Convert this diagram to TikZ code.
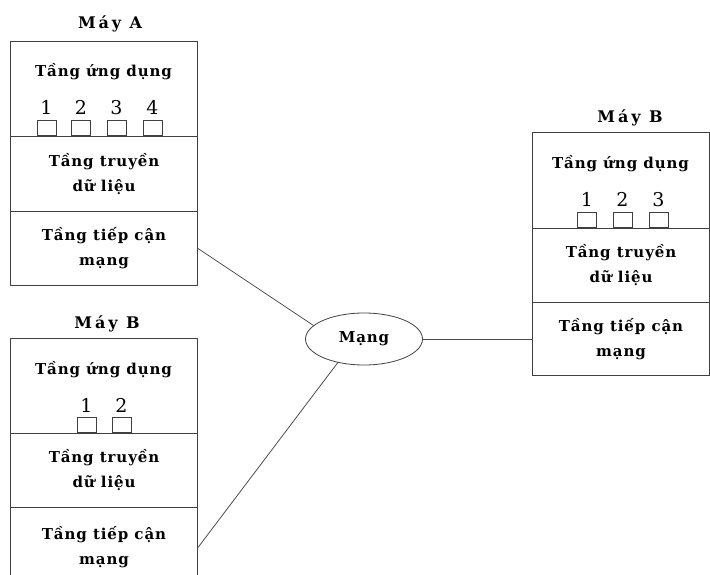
\documentclass[tikz,border=0pt]{standalone}
\usepackage{fontspec}
\newfontfamily\labelfont{DejaVu Serif}[LetterSpace=6]
\newfontfamily\titlefont{DejaVu Serif}[LetterSpace=18]
\newfontfamily\numfont{DejaVu Serif}
\usetikzlibrary{shapes.geometric}

\tikzset{
	layer/.style={draw=black!75, line width=1pt, minimum width=187pt, anchor=north west,
		inner sep=0pt, align=center, font=\labelfont\bfseries\fontsize{15}{25}\selectfont},
	apptext/.style={anchor=base, inner sep=0pt, font=\labelfont\bfseries\fontsize{15}{25}\selectfont},
	title/.style={anchor=base, inner sep=0pt, font=\titlefont\bfseries\fontsize{16}{18}\selectfont},
	port/.style={draw=black!75, line width=0.8pt, minimum width=19pt, minimum height=15pt,
		anchor=south, inner sep=0pt},
	portnum/.style={anchor=base, inner sep=0pt, font=\numfont\fontsize{19}{19}\selectfont},
	net/.style={draw=black!75, line width=0.8pt, ellipse, minimum width=117pt, minimum height=52pt,
		inner sep=0pt, font=\labelfont\bfseries\fontsize{15}{17}\selectfont},
	link/.style={draw=black!70, line width=0.8pt}
}

\begin{document}
\begin{tikzpicture}[x=1pt,y=1pt,yscale=-1]
	\useasboundingbox (0,0) rectangle (710,575);

	% Máy A
	\node[title] (titleA) at (110,29) {Máy A};
	\node[layer, minimum height=95pt] (appA) at (10,41) {};
	\node[layer, minimum height=75pt] (tranA) at (10,136) {Tầng truyền\\dữ liệu};
	\node[layer, minimum height=74pt] (accA) at (10,211) {Tầng tiếp cận\\mạng};
	\node[apptext] (appAtext) at (103.5,77) {Tầng ứng dụng};
	\foreach \n/\x in {1/46.5,2/81,3/116.5,4/152.5}{
		\node[port] (portA\n) at (\x,136) {};
		\node[portnum] (numA\n) at (\x,115) {\n};
	}

	% Máy B (duoi)
	\node[title] (titleB) at (107,328) {Máy B};
	\node[layer, minimum height=95pt] (appB) at (10,338) {};
	\node[layer, minimum height=74pt] (tranB) at (10,433) {Tầng truyền\\dữ liệu};
	\node[layer, minimum height=80pt] (accB) at (10,507) {Tầng tiếp cận\\mạng};
	\node[apptext] (appBtext) at (103.5,374) {Tầng ứng dụng};
	\foreach \n/\x in {1/86.5,2/121.5}{
		\node[port] (portB\n) at (\x,433) {};
		\node[portnum] (numB\n) at (\x,412) {\n};
	}

	% Máy B (phai)
	\node[title] (titleC) at (630,123) {Máy B};
	\node[layer, minimum width=177pt, minimum height=96pt] (appC) at (532,132) {};
	\node[layer, minimum width=177pt, minimum height=74pt] (tranC) at (532,228) {Tầng truyền\\dữ liệu};
	\node[layer, minimum width=177pt, minimum height=73pt] (accC) at (532,302) {Tầng tiếp cận\\mạng};
	\node[apptext] (appCtext) at (620.5,168) {Tầng ứng dụng};
	\foreach \n/\x in {1/587,2/622.5,3/658.5}{
		\node[port] (portC\n) at (\x,228) {};
		\node[portnum] (numC\n) at (\x,207) {\n};
	}

	% Mạng
	\node[net] (mang) at (364,339) {Mạng};
	\draw[link] (accA.east) -- (mang.165);
	\draw[link] (accB.east) -- (mang.222);
	\draw[link] (mang.east) -- (accC.west);
\end{tikzpicture}
\end{document}
